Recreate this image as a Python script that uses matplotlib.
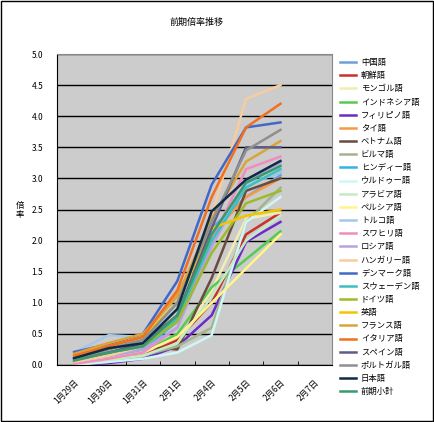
import numpy as np
import matplotlib
matplotlib.use("Agg")
from matplotlib import pyplot as plt
from matplotlib.patches import Rectangle

plt.rcParams['font.family'] = ['Noto Sans CJK JP', 'DejaVu Sans']

dates = ['1月29日', '1月30日', '1月31日', '2月1日', '2月4日', '2月5日', '2月6日', '2月7日']

# ratio per language, last date has no value yet
chinese    = [0.12, 0.30, 0.40, 1.00, 2.20, 2.70, 3.05]
korean     = [0.05, 0.10, 0.15, 0.40, 1.00, 2.10, 2.45]
mongolian  = [0.00, 0.05, 0.10, 0.35, 1.20, 2.35, 2.45]
indonesian = [0.05, 0.10, 0.20, 0.50, 1.25, 1.70, 2.15]
filipino   = [0.00, 0.03, 0.10, 0.30, 0.80, 1.98, 2.30]
thai       = [0.20, 0.35, 0.50, 1.15, 2.10, 2.70, 3.00]
vietnamese = [0.10, 0.20, 0.30, 0.25, 1.40, 2.80, 3.00]
burmese    = [0.02, 0.05, 0.15, 0.30, 0.60, 2.30, 2.85]
hindi      = [0.05, 0.15, 0.25, 0.70, 2.00, 2.90, 3.10]
urdu       = [0.00, 0.05, 0.10, 0.20, 0.48, 2.30, 2.70]
arabic     = [0.02, 0.08, 0.15, 0.35, 1.10, 2.00, 2.40]
persian    = [0.05, 0.10, 0.20, 0.45, 1.00, 1.55, 2.10]
turkish    = [0.20, 0.48, 0.45, 0.90, 2.00, 2.90, 3.10]
swahili    = [0.02, 0.10, 0.20, 0.60, 2.00, 3.15, 3.35]
russian    = [0.05, 0.15, 0.25, 0.60, 1.90, 2.95, 3.25]
hungarian  = [0.05, 0.15, 0.30, 0.90, 2.40, 4.28, 4.50]
danish     = [0.21, 0.33, 0.50, 1.35, 2.90, 3.82, 3.90]
swedish    = [0.10, 0.20, 0.30, 0.75, 2.00, 2.85, 3.15]
german     = [0.10, 0.20, 0.30, 0.70, 1.80, 2.60, 2.80]
english    = [0.15, 0.30, 0.45, 1.00, 2.20, 2.40, 2.50]
french     = [0.18, 0.35, 0.50, 1.10, 2.35, 3.27, 3.60]
italian    = [0.15, 0.30, 0.45, 1.20, 2.70, 3.82, 4.20]
spanish    = [0.08, 0.20, 0.35, 0.80, 2.20, 3.50, 3.50]
portuguese = [0.10, 0.25, 0.40, 1.00, 2.30, 3.45, 3.78]
japanese   = [0.11, 0.27, 0.35, 0.90, 2.47, 2.98, 3.28]
subtotal   = [0.07, 0.20, 0.30, 0.80, 2.10, 2.93, 3.20]

series = [
    ('中国語', chinese, '#6f9fd8'),
    ('朝鮮語', korean, '#c8302c'),
    ('モンゴル語', mongolian, '#f3eeae'),
    ('インドネシア語', indonesian, '#55cc4f'),
    ('フィリピノ語', filipino, '#6a2bc9'),
    ('タイ語', thai, '#f49a45'),
    ('ベトナム語', vietnamese, '#6b4b40'),
    ('ビルマ語', burmese, '#a3b48c'),
    ('ヒンディー語', hindi, '#31b5e0'),
    ('ウルドゥー語', urdu, '#cff7f5'),
    ('アラビア語', arabic, '#c6ebc4'),
    ('ペルシア語', persian, '#fff58a'),
    ('トルコ語', turkish, '#a3c8ea'),
    ('スワヒリ語', swahili, '#f08cc0'),
    ('ロシア語', russian, '#b8a2e0'),
    ('ハンガリー語', hungarian, '#f8cc9e'),
    ('デンマーク語', danish, '#4168c8'),
    ('スウェーデン語', swedish, '#3cc0bf'),
    ('ドイツ語', german, '#9bbb2a'),
    ('英語', english, '#f2c500'),
    ('フランス語', french, '#dca33a'),
    ('イタリア語', italian, '#f07020'),
    ('スペイン語', spanish, '#5e5e84'),
    ('ポルトガル語', portuguese, '#8f8f8f'),
    ('日本語', japanese, '#0f2a45'),
    ('前期小計', subtotal, '#3a9a6c'),
]

fig = plt.figure(figsize=(4.34, 4.22), dpi=100)
fig.patches.append(Rectangle((0.002, 0.002), 0.996, 0.995, transform=fig.transFigure,
                             fill=False, edgecolor='black', linewidth=1))

ax = fig.add_axes([57 / 434, 57 / 422, 275 / 434, 311 / 422])
ax.set_facecolor('#cccccc')

x = np.arange(len(dates))
for name, vals, col in series:
    ax.plot(x[:len(vals)], vals, color=col, lw=1.8, label=name)

ax.set_xlim(-0.5, len(dates) - 0.5)
ax.set_ylim(0, 5)
ax.set_yticks(np.arange(0, 5.01, 0.5))
ax.set_yticklabels(['%.1f' % v for v in np.arange(0, 5.01, 0.5)], fontsize=6)
ax.tick_params(axis='y', length=0, pad=10)
ax.grid(axis='y', color='black', lw=1)
ax.set_axisbelow(True)

ax.set_xticks(x)
ax.set_xticklabels(dates, fontsize=6, rotation=45, ha='right', va='top', rotation_mode='anchor')
ax.tick_params(axis='x', which='major', length=0, pad=9)
ax.set_xticks(np.arange(-0.5, len(dates)), minor=True)
ax.tick_params(axis='x', which='minor', direction='in', length=3)

for s in ['top', 'right']:
    ax.spines[s].set_color('#888888')
for s in ['left', 'bottom']:
    ax.spines[s].set_color('black')

fig.text(197 / 434, 1 - 22 / 422, '前期倍率推移', fontsize=6.5, ha='center', va='center')
fig.text(20 / 434, 1 - 210 / 422, '倍\n率', fontsize=6, ha='center', va='center', linespacing=1.0)

fig.legend(loc='upper left', bbox_to_anchor=(340 / 434, 1 - 58 / 422), frameon=False,
           fontsize=6, handlelength=1.9, handletextpad=0.6, labelspacing=0.5,
           borderpad=0, borderaxespad=0)

fig.savefig('out.png', dpi=100)
